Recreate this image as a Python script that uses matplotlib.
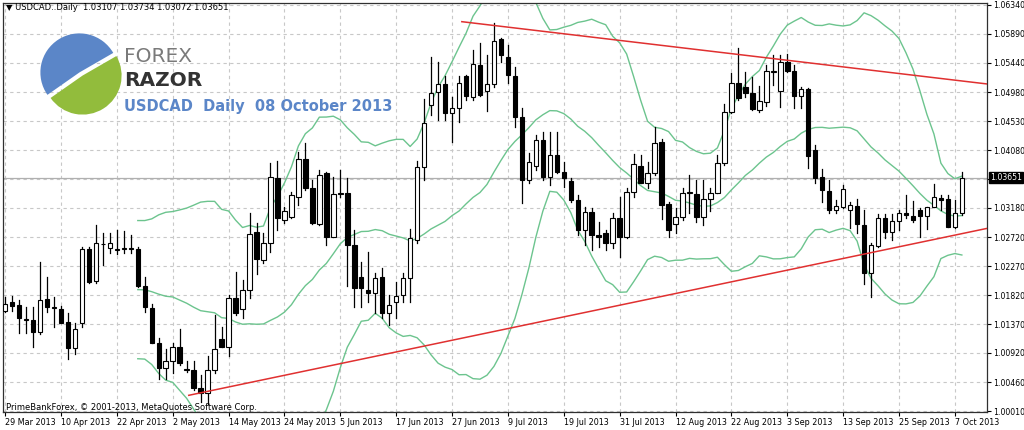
import matplotlib.pyplot as plt
import numpy as np
from matplotlib.patches import Wedge, Rectangle

# daily USDCAD candles, 28 Mar 2013 .. 8 Oct 2013
opens = [1.0158, 1.0171, 1.0166, 1.0143, 1.0144, 1.0124, 1.0176, 1.0162, 1.0160, 1.0140,
         1.0099, 1.0138, 1.0254, 1.0204, 1.0261, 1.0255, 1.0252, 1.0254, 1.0254, 1.0254,
         1.0196, 1.0162, 1.0108, 1.0069, 1.0079, 1.0101, 1.0066, 1.0065, 1.0038, 1.0029,
         1.0065, 1.0113, 1.0102, 1.0177, 1.0160, 1.0190, 1.0280, 1.0236, 1.0264, 1.0364,
         1.0299, 1.0303, 1.0335, 1.0394, 1.0349, 1.0293, 1.0372, 1.0272, 1.0339, 1.0341,
         1.0260, 1.0210, 1.0190, 1.0185, 1.0210, 1.0154, 1.0171, 1.0182, 1.0208, 1.0268,
         1.0381, 1.0478, 1.0498, 1.0511, 1.0466, 1.0474, 1.0523, 1.0491, 1.0541, 1.0500,
         1.0511, 1.0581, 1.0553, 1.0523, 1.0459, 1.0361, 1.0383, 1.0424, 1.0366, 1.0400,
         1.0374, 1.0360, 1.0330, 1.0283, 1.0311, 1.0275, 1.0279, 1.0263, 1.0302, 1.0272,
         1.0342, 1.0383, 1.0357, 1.0372, 1.0420, 1.0324, 1.0293, 1.0303, 1.0341, 1.0339,
         1.0303, 1.0332, 1.0341, 1.0388, 1.0467, 1.0513, 1.0506, 1.0497, 1.0470, 1.0483,
         1.0530, 1.0500, 1.0545, 1.0531, 1.0492, 1.0503, 1.0408, 1.0366, 1.0344, 1.0314,
         1.0319, 1.0314, 1.0321, 1.0291, 1.0216, 1.0258, 1.0302, 1.0280, 1.0297, 1.0310,
         1.0305, 1.0314, 1.0305, 1.0319, 1.0333, 1.0332, 1.0288, 1.03107]
highs = [1.0179, 1.0180, 1.0174, 1.0163, 1.0163, 1.0233, 1.0211, 1.0179, 1.0165, 1.0154,
         1.0138, 1.0257, 1.0257, 1.0291, 1.0279, 1.0279, 1.0283, 1.0282, 1.0275, 1.0257,
         1.0211, 1.0169, 1.0115, 1.0098, 1.0107, 1.0130, 1.0080, 1.0080, 1.0057, 1.0087,
         1.0151, 1.0132, 1.0182, 1.0218, 1.0205, 1.0310, 1.0294, 1.0279, 1.0388, 1.0391,
         1.0319, 1.0342, 1.0405, 1.0419, 1.0361, 1.0377, 1.0374, 1.0366, 1.0377, 1.0364,
         1.0283, 1.0233, 1.0249, 1.0216, 1.0225, 1.0182, 1.0202, 1.0216, 1.0285, 1.0391,
         1.0488, 1.0553, 1.0545, 1.0523, 1.0491, 1.0523, 1.0525, 1.0564, 1.0575, 1.0556,
         1.0606, 1.0583, 1.0572, 1.0537, 1.0474, 1.0403, 1.0431, 1.0436, 1.0436, 1.0436,
         1.0389, 1.0364, 1.0338, 1.0319, 1.0318, 1.0296, 1.0283, 1.0310, 1.0335, 1.0349,
         1.0402, 1.0400, 1.0389, 1.0444, 1.0425, 1.0327, 1.0318, 1.0349, 1.0369, 1.0361,
         1.0361, 1.0349, 1.0400, 1.0480, 1.0528, 1.0567, 1.0530, 1.0522, 1.0508, 1.0541,
         1.0556, 1.0556, 1.0558, 1.0541, 1.0506, 1.0505, 1.0416, 1.0378, 1.0361, 1.0330,
         1.0353, 1.0327, 1.0332, 1.0314, 1.0264, 1.0308, 1.0308, 1.0308, 1.0314, 1.0338,
         1.0328, 1.0318, 1.0319, 1.0355, 1.0338, 1.0338, 1.0330, 1.03734]
lows = [1.0155, 1.0158, 1.0123, 1.0123, 1.0102, 1.0121, 1.0155, 1.0132, 1.0138, 1.0082,
        1.0091, 1.0132, 1.0201, 1.0201, 1.0229, 1.0247, 1.0246, 1.0247, 1.0247, 1.0194,
        1.0155, 1.0107, 1.0052, 1.0051, 1.0060, 1.0073, 1.0062, 1.0034, 1.0015, 1.0013,
        1.0060, 1.0101, 1.0087, 1.0151, 1.0147, 1.0177, 1.0215, 1.0232, 1.0249, 1.0283,
        1.0294, 1.0302, 1.0322, 1.0346, 1.0293, 1.0291, 1.0260, 1.0272, 1.0335, 1.0197,
        1.0163, 1.0163, 1.0171, 1.0154, 1.0146, 1.0135, 1.0147, 1.0171, 1.0171, 1.0264,
        1.0361, 1.0463, 1.0455, 1.0455, 1.0420, 1.0452, 1.0486, 1.0486, 1.0492, 1.0469,
        1.0506, 1.0545, 1.0513, 1.0444, 1.0325, 1.0357, 1.0377, 1.0361, 1.0353, 1.0372,
        1.0350, 1.0327, 1.0275, 1.0260, 1.0252, 1.0257, 1.0252, 1.0255, 1.0241, 1.0271,
        1.0335, 1.0357, 1.0349, 1.0369, 1.0300, 1.0272, 1.0279, 1.0299, 1.0310, 1.0296,
        1.0291, 1.0313, 1.0341, 1.0385, 1.0466, 1.0486, 1.0491, 1.0470, 1.0467, 1.0477,
        1.0509, 1.0475, 1.0530, 1.0474, 1.0474, 1.0380, 1.0357, 1.0327, 1.0310, 1.0310,
        1.0318, 1.0286, 1.0279, 1.0199, 1.0179, 1.0257, 1.0271, 1.0268, 1.0283, 1.0302,
        1.0296, 1.0272, 1.0285, 1.0319, 1.0314, 1.0288, 1.0286, 1.03072]
closes = [1.0169, 1.0165, 1.0146, 1.0143, 1.0124, 1.0174, 1.0163, 1.0162, 1.0138, 1.0099,
          1.0130, 1.0254, 1.0202, 1.0263, 1.0261, 1.0263, 1.0252, 1.0254, 1.0254, 1.0196,
          1.0163, 1.0107, 1.0069, 1.0079, 1.0101, 1.0076, 1.0066, 1.0038, 1.0029, 1.0066,
          1.0098, 1.0102, 1.0177, 1.0154, 1.0190, 1.0277, 1.0238, 1.0263, 1.0366, 1.0302,
          1.0313, 1.0338, 1.0394, 1.0349, 1.0294, 1.0369, 1.0272, 1.0339, 1.0341, 1.0260,
          1.0193, 1.0193, 1.0185, 1.0208, 1.0154, 1.0166, 1.0180, 1.0208, 1.0271, 1.0381,
          1.0450, 1.0497, 1.0511, 1.0466, 1.0474, 1.0513, 1.0492, 1.0542, 1.0494, 1.0511,
          1.0578, 1.0556, 1.0525, 1.0459, 1.0361, 1.0389, 1.0424, 1.0366, 1.0400, 1.0374,
          1.0364, 1.0330, 1.0283, 1.0311, 1.0275, 1.0272, 1.0263, 1.0302, 1.0272, 1.0342,
          1.0386, 1.0357, 1.0372, 1.0419, 1.0322, 1.0283, 1.0303, 1.0341, 1.0341, 1.0303,
          1.0332, 1.0341, 1.0388, 1.0467, 1.0513, 1.0489, 1.0497, 1.0472, 1.0484, 1.0531,
          1.0530, 1.0545, 1.0531, 1.0492, 1.0503, 1.0399, 1.0364, 1.0346, 1.0314, 1.0321,
          1.0347, 1.0322, 1.0293, 1.0216, 1.0260, 1.0302, 1.0280, 1.0297, 1.0310, 1.0307,
          1.0299, 1.0305, 1.0319, 1.0335, 1.0330, 1.0288, 1.0310, 1.03651]

date_labels = ['29 Mar 2013', '10 Apr 2013', '22 Apr 2013', '2 May 2013', '14 May 2013',
               '24 May 2013', '5 Jun 2013', '17 Jun 2013', '27 Jun 2013', '9 Jul 2013',
               '19 Jul 2013', '31 Jul 2013', '12 Aug 2013', '22 Aug 2013', '3 Sep 2013',
               '13 Sep 2013', '25 Sep 2013', '7 Oct 2013']
price_ticks = [1.00010, 1.00460, 1.00920, 1.01370, 1.01820, 1.02270, 1.02720, 1.03180,
               1.03630, 1.04080, 1.04530, 1.04980, 1.05440, 1.05890, 1.06340]

# hand-drawn trendlines: (bar index, price) end points
upper_line_x = [65.4, 140.6]
upper_line_y = [1.0608, 1.0511]
lower_line_x = [26.3, 140.6]
lower_line_y = [1.0026, 1.0286]

last_price = 1.03651

W, H = 1024, 430
fig = plt.figure(figsize=(W / 100, H / 100), dpi=100)
fig.patch.set_facecolor('white')
ax = fig.add_axes([3 / W, 18 / H, 984 / W, 409 / H])

n = len(closes)
idx = np.arange(n)

# Bollinger bands 20, 2
cl = np.array(closes)
mid = np.full(n, np.nan)
up = np.full(n, np.nan)
lo = np.full(n, np.nan)
for i in range(19, n):
    w = cl[i - 19:i + 1]
    mid[i] = w.mean()
    up[i] = w.mean() + 2 * w.std()
    lo[i] = w.mean() - 2 * w.std()
band_col = '#6cc48e'
for b in (mid, up, lo):
    ax.plot(idx, b, color=band_col, lw=1.0, zorder=2)

# grid
for p in price_ticks:
    ax.axhline(p, color='#c8c8c8', lw=0.8, ls=(0, (3, 3)), zorder=0)
for k in range(len(date_labels)):
    ax.axvline(k * 8, color='#c8c8c8', lw=0.8, ls=(0, (3, 3)), zorder=0)
ax.axhline(last_price, color='#b0b0b0', lw=0.9, zorder=1)

# candles
for i in range(n):
    o, h, l, c = opens[i], highs[i], lows[i], closes[i]
    ax.plot([i, i], [l, h], color='black', lw=0.9, zorder=3)
    bottom = min(o, c)
    height = max(abs(c - o), 0.00012)
    face = 'white' if c >= o else 'black'
    ax.add_patch(Rectangle((i - 0.32, bottom), 0.64, height, facecolor=face,
                           edgecolor='black', lw=0.8, zorder=4))

ax.plot(upper_line_x, upper_line_y, color='#e03030', lw=1.1, zorder=5)
ax.plot(lower_line_x, lower_line_y, color='#e03030', lw=1.1, zorder=5)

ax.set_xlim(-0.3, 140.6)
ax.set_ylim(1.0000, 1.06371)
ax.yaxis.tick_right()
ax.set_yticks(price_ticks)
ax.set_yticklabels([f'{p:.5f}' for p in price_ticks], fontsize=5.6)
ax.set_xticks([k * 8 for k in range(len(date_labels))])
ax.set_xticklabels(date_labels, fontsize=5.8, ha='left')
ax.tick_params(axis='both', length=3, width=0.8, pad=1.5)
for s in ax.spines.values():
    s.set_color('#303030')
    s.set_linewidth(0.9)

ax.text(1.003, last_price, f'{last_price:.5f}', transform=ax.get_yaxis_transform(),
        fontsize=5.6, color='white', va='center', ha='left', zorder=10,
        bbox=dict(boxstyle='square,pad=0.15', fc='black', ec='black'))

fig.text(6 / W, 1 - 8 / H, '\u25bc USDCAD..Daily  1.03107 1.03734 1.03072 1.03651',
         fontsize=6, va='center', ha='left')
fig.text(6 / W, 1 - 407 / H, 'PrimeBankForex, \u00a9 2001-2013, MetaQuotes Software Corp.',
         fontsize=6, va='center', ha='left')

# logo
lax = fig.add_axes([40 / W, 1 - 115 / H, 82 / W, 82 / H])
lax.set_xlim(-1.05, 1.05)
lax.set_ylim(-1.05, 1.05)
lax.set_aspect('equal')
lax.axis('off')
lax.add_patch(Wedge((-0.04, 0.04), 1.0, 30, 215, fc='#5b86c8', ec='none'))
lax.add_patch(Wedge((0.04, -0.04), 1.0, 215, 390, fc='#92bc3c', ec='none'))
fig.text(124 / W, 1 - 56 / H, 'FOREX', fontsize=14.5, color='#7a7a7a', va='center')
fig.text(124 / W, 1 - 80 / H, 'RAZOR', fontsize=14.5, color='#333333', weight='bold', va='center')
fig.text(124 / W, 1 - 106 / H, 'USDCAD  Daily  08 October 2013', fontsize=10.5,
         color='#5b86c8', weight='bold', va='center')

fig.savefig('out.png', dpi=100)
